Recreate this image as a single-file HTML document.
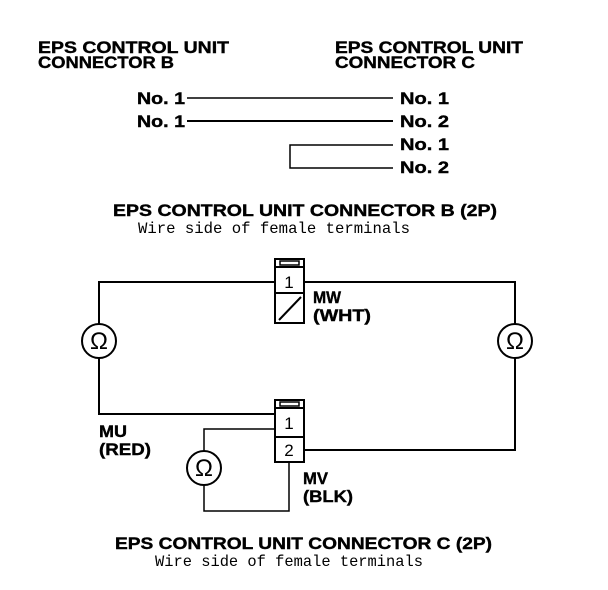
<!DOCTYPE html>
<html><head><style>
html,body{margin:0;padding:0;background:#fff;}
svg{display:block;}
.b{font-family:"Liberation Sans",sans-serif;font-weight:bold;font-size:17px;fill:#000;stroke:#000;stroke-width:0.4;}
.m{font-family:"Liberation Mono",monospace;font-size:16px;fill:#000;}
.n{font-family:"Liberation Sans",sans-serif;font-size:17px;fill:#000;}
</style></head><body>
<svg width="608" height="590" viewBox="0 0 608 590" xmlns="http://www.w3.org/2000/svg">
<g fill="none" stroke="#000" stroke-width="2">
<line x1="187" y1="98" x2="393" y2="98" stroke-width="1.5"/>
<line x1="187" y1="121" x2="393" y2="121"/>
<polyline points="393,145 290,145 290,168 393,168" stroke-width="1.5"/>
<polyline points="275,282 99,282 99,324"/>
<polyline points="99,358 99,414 275,414"/>
<polyline points="304,282 515,282 515,324"/>
<polyline points="515,358 515,450 304,450"/>
<polyline points="275,429 204,429 204,451" stroke-width="1.5"/>
<polyline points="204,485 204,511 289,511 289,462" stroke-width="1.5"/>
<rect x="275" y="259" width="29" height="64"/>
<line x1="275" y1="267" x2="304" y2="267"/>
<rect x="280" y="261" width="19" height="4" stroke-width="1.5"/>
<line x1="275" y1="293" x2="304" y2="293"/>
<line x1="279" y1="320" x2="301" y2="297"/>
<rect x="275" y="400" width="29" height="62"/>
<line x1="275" y1="408" x2="304" y2="408"/>
<rect x="280" y="402" width="19" height="4" stroke-width="1.5"/>
<line x1="275" y1="437" x2="304" y2="437"/>
<circle cx="99" cy="341" r="17"/>
<circle cx="515" cy="341" r="17"/>
<circle cx="204" cy="468" r="17"/>
</g>
<g class="n" text-anchor="middle">
<text x="289" y="288">1</text>
<text x="289" y="429">1</text>
<text x="289" y="456">2</text>
<text x="99" y="349" font-size="24">Ω</text>
<text x="515" y="349" font-size="24">Ω</text>
<text x="204" y="476" font-size="24">Ω</text>
</g>
<g class="b">
<text x="38" y="53" textLength="191" lengthAdjust="spacingAndGlyphs">EPS CONTROL UNIT</text>
<text x="38" y="68" textLength="136" lengthAdjust="spacingAndGlyphs">CONNECTOR B</text>
<text x="335" y="53" textLength="188" lengthAdjust="spacingAndGlyphs">EPS CONTROL UNIT</text>
<text x="335" y="68" textLength="140" lengthAdjust="spacingAndGlyphs">CONNECTOR C</text>
<text x="137" y="104" textLength="48" lengthAdjust="spacingAndGlyphs">No. 1</text>
<text x="137" y="127" textLength="48" lengthAdjust="spacingAndGlyphs">No. 1</text>
<text x="400" y="104" textLength="49" lengthAdjust="spacingAndGlyphs">No. 1</text>
<text x="400" y="127" textLength="49" lengthAdjust="spacingAndGlyphs">No. 2</text>
<text x="400" y="150" textLength="49" lengthAdjust="spacingAndGlyphs">No. 1</text>
<text x="400" y="173" textLength="49" lengthAdjust="spacingAndGlyphs">No. 2</text>
<text x="113" y="216" textLength="384" lengthAdjust="spacingAndGlyphs">EPS CONTROL UNIT CONNECTOR B (2P)</text>
<text x="115" y="549" textLength="377" lengthAdjust="spacingAndGlyphs">EPS CONTROL UNIT CONNECTOR C (2P)</text>
<text x="313" y="303" textLength="28" lengthAdjust="spacingAndGlyphs">MW</text>
<text x="313" y="321" textLength="58" lengthAdjust="spacingAndGlyphs">(WHT)</text>
<text x="99" y="437" textLength="28" lengthAdjust="spacingAndGlyphs">MU</text>
<text x="99" y="455" textLength="52" lengthAdjust="spacingAndGlyphs">(RED)</text>
<text x="303" y="484" textLength="25" lengthAdjust="spacingAndGlyphs">MV</text>
<text x="303" y="502" textLength="50" lengthAdjust="spacingAndGlyphs">(BLK)</text>
</g>
<g class="m">
<text x="138" y="233" textLength="272" lengthAdjust="spacingAndGlyphs">Wire side of female terminals</text>
<text x="155" y="566" textLength="268" lengthAdjust="spacingAndGlyphs">Wire side of female terminals</text>
</g>
</svg>
</body></html>
